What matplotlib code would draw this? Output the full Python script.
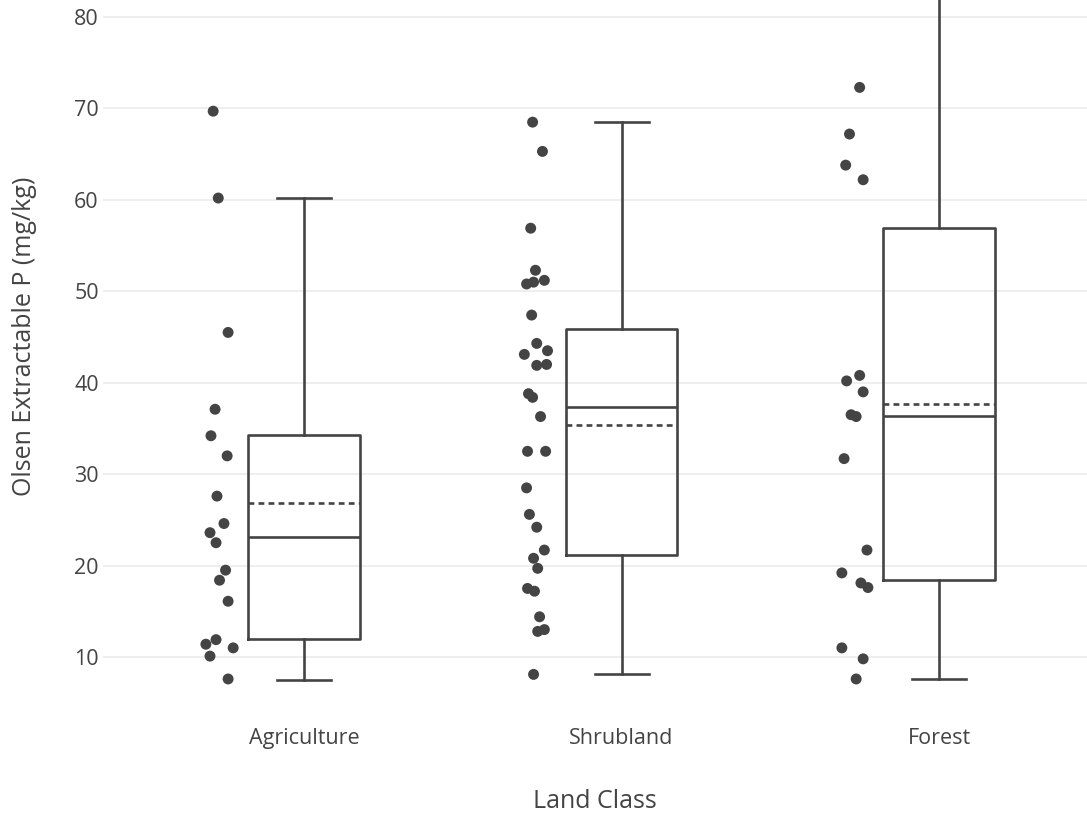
#!/usr/bin/env python3
"""Box plot of Olsen extractable P by land class, with every sample drawn beside its box."""

import matplotlib

matplotlib.use("Agg")
import matplotlib.pyplot as plt
import numpy as np

# Land classes along the x axis
land_classes = ["Agriculture", "Shrubland", "Forest"]

# Olsen extractable P per sample (mg/kg)
agriculture_p = [69.7, 60.2, 45.5, 37.1, 34.2, 32.0, 27.6, 24.6, 23.6, 22.5,
                 19.5, 18.4, 16.1, 11.9, 11.4, 10.1, 11.0, 7.6]
shrubland_p = [68.5, 65.3, 56.9, 52.3, 50.8, 51.0, 51.2, 47.4, 44.3, 43.1,
               43.5, 41.9, 42.0, 38.8, 38.4, 36.3, 32.5, 32.5, 28.5, 25.6,
               24.2, 21.7, 20.8, 19.7, 17.5, 17.2, 14.4, 12.8, 13.0, 8.1]
forest_p = [72.3, 67.2, 63.8, 62.2, 40.8, 40.2, 39.0, 36.5, 36.3, 31.7,
            21.7, 19.2, 18.1, 17.6, 11.0, 9.8, 7.6]

# Horizontal jitter of each sample (category units, relative to the box centre)
agriculture_jitter = [-0.286, -0.270, -0.239, -0.280, -0.293, -0.242, -0.274,
                      -0.252, -0.296, -0.277, -0.247, -0.266, -0.239, -0.277,
                      -0.309, -0.296, -0.223, -0.239]
shrubland_jitter = [-0.280, -0.249, -0.286, -0.271, -0.299, -0.277, -0.243,
                    -0.283, -0.267, -0.306, -0.233, -0.267, -0.236, -0.293,
                    -0.280, -0.255, -0.296, -0.239, -0.299, -0.290, -0.267,
                    -0.243, -0.277, -0.264, -0.296, -0.274, -0.258, -0.264,
                    -0.243, -0.277]
forest_jitter = [-0.250, -0.282, -0.294, -0.239, -0.250, -0.291, -0.239,
                 -0.277, -0.261, -0.299, -0.227, -0.306, -0.246, -0.224,
                 -0.306, -0.239, -0.261]

# Box summary per class: whisker ends, quartiles, median and mean
whisker_low = [7.5, 8.1, 7.6]
quartile_1 = [12.0, 21.2, 18.4]
medians = [23.1, 37.4, 36.4]
means = [26.9, 35.4, 37.7]
quartile_3 = [34.3, 45.9, 56.9]
whisker_high = [60.2, 68.5, 86.0]

y_ticks = [10, 20, 30, 40, 50, 60, 70, 80]

INK = "#444444"
GRID = "#eeeeee"
W, H = 1087, 816

plt.rcParams["font.family"] = ["Open Sans", "DejaVu Sans"]

fig = plt.figure(figsize=(W / 100, H / 100), dpi=100)
ax = fig.add_axes([103 / W, 1 - 700 / H, (W - 103) / W, 700 / H])

positions = np.arange(len(land_classes))
stats = []
for i, name in enumerate(land_classes):
    stats.append({
        "label": name,
        "whislo": whisker_low[i],
        "q1": quartile_1[i],
        "med": medians[i],
        "mean": means[i],
        "q3": quartile_3[i],
        "whishi": whisker_high[i],
        "fliers": [],
    })

line = dict(color=INK, linewidth=1.9)
ax.bxp(stats, positions=positions, widths=0.352, capwidths=0.17,
       showmeans=True, meanline=True, showfliers=False,
       boxprops=line, whiskerprops=line, capprops=line, medianprops=line,
       meanprops=dict(color=INK, linewidth=1.9, linestyle=(0, (2.2, 1.6))),
       manage_ticks=False, zorder=3)

# Sample points, offset to the left of each box
samples = [agriculture_p, shrubland_p, forest_p]
jitters = [agriculture_jitter, shrubland_jitter, forest_jitter]
for pos, vals, jit in zip(positions, samples, jitters):
    ax.scatter(pos + np.asarray(jit), vals, s=62, color=INK,
               edgecolors="none", zorder=4)

ax.set_xlim(-0.633, 2.466)
ax.set_ylim(5.30, 81.86)
ax.set_xticks(positions)
ax.set_xticklabels(land_classes)
ax.set_yticks(y_ticks)
ax.tick_params(axis="both", length=0, labelsize=15.5, labelcolor=INK)
ax.tick_params(axis="x", pad=20)
ax.tick_params(axis="y", pad=3)
ax.grid(axis="y", color=GRID, linewidth=1.4, zorder=0)
ax.set_axisbelow(True)
for spine in ax.spines.values():
    spine.set_visible(False)

ax.set_xlabel("Land Class", fontsize=18, color=INK, labelpad=29)
ax.set_ylabel("Olsen Extractable P (mg/kg)", fontsize=18, color=INK)
ax.yaxis.set_label_coords(-66 / (W - 103), 1 - 336 / 700)

fig.savefig("out.png", dpi=100, facecolor="white")
